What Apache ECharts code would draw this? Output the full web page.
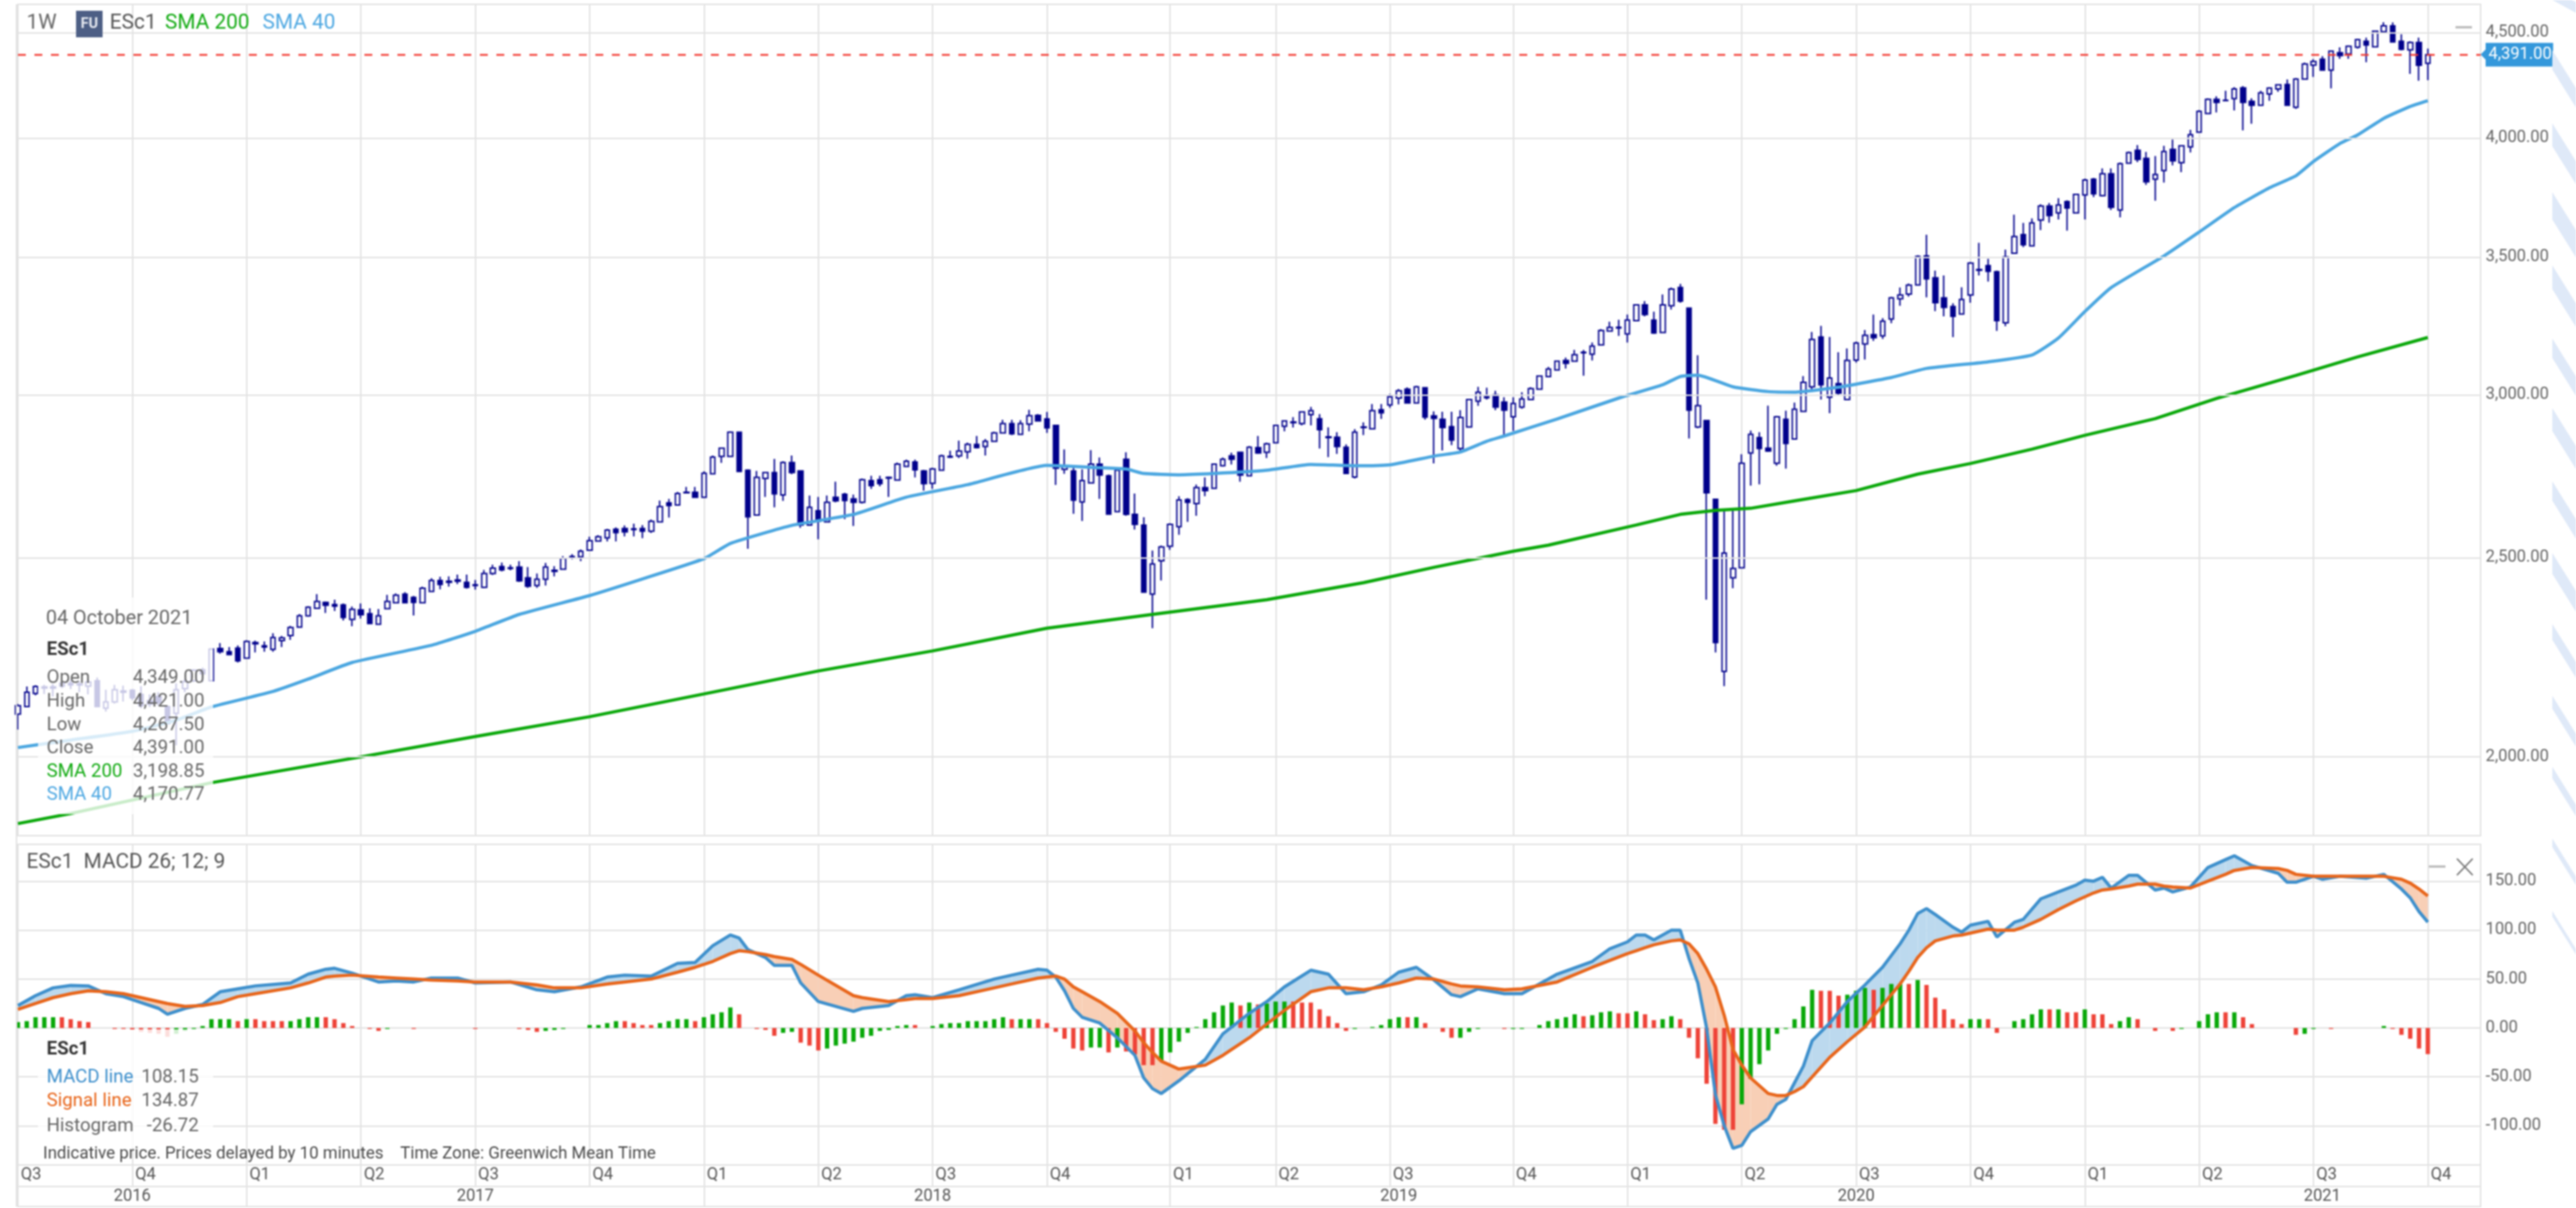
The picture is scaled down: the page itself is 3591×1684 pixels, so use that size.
<!DOCTYPE html>
<html>
<head>
<meta charset="utf-8">
<style>
html,body{margin:0;padding:0;background:#fff;overflow:hidden}
#chart{width:3591px;height:1684px;filter:blur(0.9px)}
</style>
<script src="https://cdn.jsdelivr.net/npm/echarts@6/dist/echarts.min.js"></script>
</head>
<body>
<div id="chart"></div>
<script>
// Weekly candles, from the week of 4 July 2016: [open, close, low, high]
const weeklyCandles = [
[2098,2118,2062,2122],[2116,2150,2115,2164],[2147,2164,2143,2167],[2160,2163,2146,2168],[2163,2160,2140,2170],
[2165,2172,2160,2178],[2172,2168,2158,2180],[2168,2170,2150,2177],[2165,2175,2145,2183],[2178,2116,2114,2186],
[2112,2127,2104,2156],[2127,2156,2123,2168],[2150,2153,2128,2166],[2155,2137,2131,2158],[2145,2118,2112,2165],
[2130,2122,2115,2145],[2140,2125,2118,2150],[2116,2076,2074,2118],[2100,2156,2026,2172],[2159,2176,2150,2182],
[2178,2204,2175,2206],[2205,2195,2175,2210],[2178,2257,2178,2258],[2258,2250,2245,2272],[2250,2243,2242,2262],
[2259,2227,2223,2266],[2234,2276,2234,2279],[2270,2273,2248,2278],[2265,2262,2250,2276],[2256,2286,2250,2297],
[2278,2285,2262,2290],[2291,2312,2280,2316],[2313,2342,2312,2347],[2342,2365,2340,2368],[2362,2380,2360,2400],
[2378,2370,2350,2380],[2372,2368,2355,2385],[2371,2338,2330,2375],[2333,2359,2315,2367],[2358,2345,2335,2375],
[2348,2322,2320,2362],[2320,2342,2320,2360],[2361,2380,2360,2398],[2377,2397,2375,2402],[2400,2377,2375,2405],
[2391,2378,2343,2395],[2377,2416,2377,2420],[2407,2437,2405,2443],[2437,2426,2413,2447],[2435,2432,2420,2448],
[2438,2435,2427,2453],[2432,2418,2415,2453],[2425,2423,2412,2438],[2418,2456,2416,2466],[2456,2471,2452,2480],
[2475,2466,2462,2486],[2472,2470,2465,2480],[2474,2436,2433,2490],[2444,2421,2417,2474],[2423,2440,2417,2456],
[2440,2474,2423,2485],[2462,2465,2448,2476],[2468,2498,2466,2504],[2500,2503,2495,2510],[2502,2518,2490,2523],
[2521,2548,2520,2559],[2547,2559,2546,2564],[2556,2578,2546,2582],[2581,2571,2546,2586],[2583,2573,2560,2592],
[2580,2582,2560,2597],[2583,2575,2555,2593],[2575,2604,2570,2609],[2602,2647,2601,2665],[2658,2650,2615,2670],
[2652,2686,2650,2691],[2688,2690,2686,2706],[2690,2675,2673,2706],[2675,2748,2675,2754],[2746,2798,2744,2803],
[2800,2826,2780,2828],[2800,2877,2800,2880],[2877,2753,2753,2877],[2757,2617,2525,2760],[2622,2735,2620,2755],
[2732,2750,2676,2752],[2750,2685,2645,2792],[2682,2781,2664,2785],[2781,2750,2745,2803],[2755,2593,2585,2757],
[2593,2645,2592,2680],[2635,2604,2552,2676],[2602,2660,2602,2680],[2675,2664,2660,2722],[2684,2665,2610,2688],
[2670,2660,2590,2683],[2660,2728,2656,2732],[2725,2710,2700,2740],[2728,2716,2708,2740],[2735,2733,2676,2738],
[2727,2776,2727,2781],[2769,2785,2769,2790],[2783,2758,2735,2790],[2755,2716,2695,2758],[2717,2761,2700,2765],
[2757,2802,2757,2806],[2800,2798,2795,2818],[2802,2817,2795,2850],[2815,2838,2793,2844],[2838,2828,2825,2865],
[2831,2848,2803,2855],[2848,2875,2848,2879],[2875,2905,2873,2917],[2905,2872,2868,2917],[2870,2905,2870,2916],
[2903,2931,2880,2950],[2932,2914,2912,2936],[2920,2891,2875,2943],[2899,2763,2712,2899],[2760,2770,2746,2822],
[2755,2666,2626,2772],[2661,2725,2605,2760],[2718,2776,2716,2820],[2776,2742,2670,2797],[2740,2625,2625,2744],
[2632,2757,2630,2760],[2791,2624,2620,2813],[2624,2595,2580,2686],[2593,2405,2405,2616],[2400,2482,2310,2520],
[2491,2530,2437,2534],[2532,2595,2522,2598],[2588,2667,2565,2678],[2668,2660,2602,2672],[2656,2704,2620,2713],
[2704,2695,2678,2735],[2702,2776,2702,2778],[2771,2791,2768,2797],[2802,2791,2775,2812],[2813,2742,2722,2815],
[2740,2829,2738,2833],[2828,2811,2808,2865],[2813,2840,2795,2844],[2843,2899,2843,2901],[2896,2914,2880,2916],
[2908,2910,2892,2926],[2905,2943,2899,2945],[2934,2947,2899,2960],[2921,2885,2825,2936],[2862,2860,2798,2893],
[2861,2831,2808,2877],[2829,2747,2745,2838],[2736,2877,2732,2887],[2892,2894,2868,2909],[2888,2947,2886,2969],
[2950,2940,2920,2969],[2966,2993,2957,3003],[2989,3014,2968,3020],[3019,2973,2971,3025],[2973,3027,2971,3031],
[3024,2926,2918,3026],[2930,2922,2778,2945],[2919,2892,2819,2944],[2895,2852,2836,2944],[2825,2925,2819,2949],
[2894,2984,2892,2986],[2979,3009,2963,3027],[2993,2990,2984,3024],[3000,2959,2949,3014],[2976,2949,2862,2992],
[2927,2971,2881,2992],[2959,2986,2954,3009],[2984,3021,2982,3026],[3019,3064,3017,3066],[3062,3088,3061,3095],
[3085,3115,3082,3118],[3118,3108,3090,3128],[3115,3138,3113,3155],[3145,3147,3065,3155],[3140,3168,3118,3181],
[3173,3224,3171,3229],[3222,3235,3220,3256],[3233,3236,3205,3263],[3212,3262,3181,3282],[3260,3318,3258,3320],
[3318,3282,3276,3332],[3262,3215,3212,3293],[3217,3318,3217,3357],[3315,3377,3301,3383],[3383,3332,3326,3397],
[3306,2949,2857,3308],[2894,2964,2890,3136],[2915,2688,2385,2917],[2669,2273,2248,2671],[2201,2513,2165,2638],
[2444,2470,2416,2638],[2472,2779,2470,2807],[2811,2870,2710,2882],[2860,2825,2714,2877],[2826,2817,2814,2964],
[2779,2927,2771,2930],[2919,2841,2762,2947],[2855,2952,2853,2974],[2945,3042,2945,3064],[3027,3192,3014,3219],
[3201,3034,2984,3241],[2992,3057,2939,3201],[3038,3006,2996,3147],[2984,3118,2984,3160],[3119,3179,3110,3184],
[3176,3207,3121,3226],[3209,3198,3187,3282],[3205,3258,3194,3269],[3266,3344,3251,3348],[3341,3355,3315,3383],
[3358,3392,3349,3398],[3393,3503,3393,3508],[3505,3416,3346,3589],[3420,3326,3295,3448],[3344,3309,3276,3429],
[3312,3276,3200,3324],[3284,3338,3284,3384],[3355,3477,3326,3481],[3452,3449,3429,3557],[3467,3445,3406,3494],
[3444,3260,3223,3448],[3252,3501,3240,3530],[3516,3582,3515,3671],[3590,3549,3540,3637],[3545,3637,3545,3655],
[3649,3706,3608,3714],[3706,3667,3638,3719],[3678,3711,3651,3739],[3725,3698,3606,3730],[3678,3755,3678,3757],
[3753,3816,3651,3822],[3820,3757,3744,3825],[3750,3843,3746,3866],[3843,3701,3690,3866],[3690,3886,3660,3892],
[3889,3935,3887,3940],[3945,3905,3893,3968],[3910,3808,3795,3938],[3820,3840,3729,3920],[3857,3940,3805,3965],
[3949,3899,3879,3993],[3891,3965,3850,3968],[3960,4015,3936,4037],[4026,4121,4026,4127],[4111,4177,4108,4182],
[4177,4163,4116,4191],[4173,4171,4170,4217],[4180,4226,4125,4234],[4231,4163,4034,4239],[4168,4149,4064,4182],
[4149,4207,4147,4217],[4202,4230,4170,4234],[4226,4245,4212,4249],[4247,4149,4147,4271],[4140,4273,4133,4278],
[4273,4345,4271,4352],[4340,4358,4283,4369],[4369,4316,4313,4384],[4316,4409,4228,4412],[4401,4387,4371,4427],
[4395,4433,4371,4437],[4428,4466,4421,4470],[4458,4439,4354,4476],[4430,4508,4428,4511],[4505,4535,4503,4554],
[4535,4454,4451,4553],[4458,4418,4412,4493],[4415,4451,4298,4458],[4451,4339,4265,4476],[4349,4391,4267.5,4421]
];

// Moving averages: [week index, value]
const sma40Points = [[0,2021],[6,2038],[13,2058],[18,2084],[22,2115],[29,2152],[33,2182],[38,2223],[47,2266],[52,2302],[57,2346],[65,2396],[71,2441],[78,2497],[81,2540],[88,2592],[95,2624],[101,2675],[108,2713],[117,2772],[123,2765],[126,2761],[128,2747],[132,2743],[136,2747],[142,2757],[147,2775],[152,2771],[156,2774],[161,2801],[164,2814],[167,2848],[169,2865],[175,2920],[182,2989],[187,3034],[189,3062],[191,3067],[195,3027],[199,3011],[202,3009],[207,3026],[213,3059],[217,3090],[224,3113],[229,3137],[232,3197],[235,3293],[238,3383],[244,3505],[248,3600],[252,3700],[256,3783],[259,3834],[261,3896],[264,3975],[266,4013],[269,4089],[272,4144],[274,4170.77]];
const sma200Points = [[0,1856],[6,1877],[22,1943],[39,2000],[52,2046],[65,2092],[78,2146],[91,2202],[104,2252],[117,2310],[129,2346],[142,2385],[153,2431],[161,2473],[170,2518],[174,2535],[184,2593],[189,2624],[193,2636],[197,2642],[202,2664],[209,2695],[216,2745],[222,2778],[229,2823],[235,2867],[243,2921],[250,2988],[259,3066],[266,3130],[274,3198.85]];

// MACD rows: [week index, MACD line, signal line]
const macdRows = [[0,23,19],[2,33,25],[4,41,31],[6,43.5,35],[8,43,38],[10,35,37],[12,32,35],[14,26,31],[16,20,27],[17,14,25],[19,20,22],[21,24,23],[23,37,26],[25,40,32],[27,43,35],[31,46,41],[33,55,46],[35,60,52],[36,61,53],[38,56,54],[41,47,52],[43,48,51],[45,47,50],[47,51,49],[50,51,48],[52,46,47],[56,47,47],[59,39,44],[61,37,41],[64,42,41],[67,52,45],[69,54,47],[72,53,50],[75,66,57],[77,67,62],[79,84,68],[81,95,76],[82,92,79],[83,80,78],[85,72,75],[86,64,73],[88,64,70],[89,46,65],[91,27,54],[95,17,33],[96,20,31],[99,23,27],[101,33,29],[102,34,30],[104,31,30],[107,39,33],[111,50,41],[113,54,45],[116,60,51],[117,59,52],[118,52,53],[119,38,50],[120,20,42],[121,11,37],[123,5,27],[125,-10,15],[127,-28,-3],[128,-51,-15],[129,-62,-25],[130,-67,-34],[132,-54,-42],[135,-32,-38],[137,-6,-28],[140,15,-10],[142,27,4],[144,42,18],[147,59,37],[149,55,41],[151,35,41],[153,37,39],[155,44,42],[157,57,46],[159,62,51],[161,49,50],[163,34,45],[164,32,43],[166,40,42],[169,35,39],[171,35,40],[175,55,47],[179,68,62],[181,81,69],[183,88,76],[184,95,79],[185,95,82],[186,90,85],[188,100,89],[189,100,90],[190,71,86],[191,46,76],[192,0,60],[193,-68,42],[194,-100,13],[195,-123,-22],[196,-120,-38],[197,-106,-51],[199,-93,-67],[200,-78,-69],[201,-73,-69],[202,-56,-65],[203,-39,-60],[204,-13,-50],[206,5,-30],[208,27,-14],[210,44,1],[212,62,23],[214,86,45],[215,100,58],[216,117,72],[217,122,82],[218,116,89],[220,103,94],[221,98,95],[222,105,97],[224,109,101],[225,93,100],[227,108,100],[228,111,103],[230,132,111],[232,139,121],[234,146,130],[235,151,134],[236,150,138],[237,154,141],[238,143,142],[240,156,145],[241,156,147],[243,141,147],[244,143,145],[245,139,144],[247,144,143],[249,164,150],[251,172,157],[252,176,161],[254,166,164],[257,158,163],[258,149,161],[259,149,157],[261,155,155],[262,152,155],[264,155,155],[267,153,155],[269,157,155],[271,142,152],[272,133,148],[273,119,142],[274,108.15,134.87]];

// MACD histogram, one bar per week, with its colour (g / r) alongside
const histogramValues = [
6,7,11,11,11,11,9,7,6,0,
0,-1,-1,-2,-4,-5,-6,-9,-6,-3,
-1,2,9,9,9,7,9,9,7,7,
7,7,9,11,11,11,9,5,2,0,
-1,-3,-1,0,0,-1,0,0,0,0,
0,0,-1,0,0,0,0,-1,-2,-4,
-3,-2,-1,0,0,3,3,5,7,7,
5,3,3,5,7,9,9,7,11,14,
16,21,14,0,-1,-2,-8,-5,-4,-15,
-18,-23,-21,-18,-16,-14,-10,-8,-3,-2,
2,3,3,0,2,4,5,5,7,7,
7,9,11,9,9,9,9,5,-4,-11,
-21,-23,-20,-20,-25,-20,-24,-27,-38,-38,
-33,-25,-14,-5,1,9,16,23,26,23,
26,24,25,27,27,27,26,26,19,12,
5,-3,-1,0,1,3,9,11,11,11,
5,0,-4,-10,-10,-4,-1,0,0,-1,
-1,-1,0,3,7,9,11,14,12,13,
16,17,15,15,17,14,8,9,12,9,
-10,-31,-57,-98,-104,-104,-78,-52,-37,-23,
-6,-1,9,22,39,38,38,33,34,38,
41,39,41,45,45,45,49,44,31,19,
9,4,9,9,9,-5,0,7,9,14,
19,19,19,16,16,19,14,14,4,7,
11,9,0,-3,0,-3,-1,0,7,14,
16,16,16,11,4,0,0,0,0,-7,
-6,-1,0,-1,0,0,0,0,0,2,
-1,-7,-11,-21,-26.72
];
const histogramColours = [
'gggggrrrrr','grrrrrrrgg','gggggrgrrr','rggggrrrrr','rrgggrgggg',
'ggrggggrrr','gggggggggr','rrrggggrgg','ggrrrrrggr','rrgggggggg',
'ggrrgggggg','gggrggrrrr','rrggrgrrrr','gggggggggr','grgggrrrrr',
'rrggggggrg','rrrrgggggr','ggggggggrg','ggrrgrrggr','rrrrrrgggg',
'gggggrrrgg','grgggrgrrr','rrggrrgggg','grgrrgrrrg','grrrgrgggg',
'grgrrrgggr','gggrgggggg','rrrrr'
].join('').split('');

const quarterWeeks  = [0,13,26,39,52,65,78,91,104,117,131,143,156,170,183,196,209,222,235,248,261,274];
const quarterLabels = ['Q3','Q4','Q1','Q2','Q3','Q4','Q1','Q2','Q3','Q4','Q1','Q2','Q3','Q4','Q1','Q2','Q3','Q4','Q1','Q2','Q3','Q4'];
const yearLineWeeks = [26,78,131,183,235];
const yearLabelWeeks = [13,52,104,157,209,262];
const yearLabels = ['2016','2017','2018','2019','2020','2021'];
const priceTicks = [2000,2500,3000,3500,4000,4500];
const macdTicks = [-100,-50,0,50,100,150];
const lastPrice = 4391;

const FUTURE_WEEKS = 6;
const categories = [];
for (let i = 0; i < weeklyCandles.length + FUTURE_WEEKS; i++) {
  categories.push(new Date(Date.UTC(2016,6,4) + i*7*864e5).toISOString().slice(0,10));
}
const quarterByCat = {}; quarterWeeks.forEach((w,k)=>{quarterByCat[categories[w]] = quarterLabels[k];});
const yearByCat = {}; yearLabelWeeks.forEach((w,k)=>{yearByCat[categories[w]] = yearLabels[k];});
const quarterLineSet = new Set(quarterWeeks.filter(w=>w>0));
const yearLineSet = new Set(yearLineWeeks);

const FONT = 'Roboto, "Liberation Sans", sans-serif';
const GRID_C = '#e2e2e2', TXT = '#666666', NAVY = '#00008b';
const fmt = v => v.toLocaleString('en-US',{minimumFractionDigits:2,maximumFractionDigits:2});

const L = 25, W = 3433, R = 3591 - L - W;
const vLines = { show:true, interval:(i)=>quarterLineSet.has(i), lineStyle:{color:GRID_C,width:2} };
const xBase = { type:'category', data:categories, boundaryGap:false, axisLine:{show:false}, axisTick:{show:false}, axisLabel:{show:false}, splitLine:vLines };

const labelsText = (x,y,t,color,size,extra) => ({type:'text',z:101,x,y,style:Object.assign({text:t,fill:color,font:`${size}px ${FONT}`,textVerticalAlign:'middle'},extra||{})});
const rowsPrice = [['Open','4,349.00',TXT,945],['High','4,421.00',TXT,978],['Low','4,267.50',TXT,1011],['Close','4,391.00',TXT,1043],['SMA 200','3,198.85','#13ab13',1076],['SMA 40','4,170.77','#4ea8e2',1108]];
const rowsMacd = [['MACD line','108.15','#3d8fcc',1502],['Signal line','134.87','#e8651a',1535],['Histogram','-26.72',TXT,1570]];

const stripeTops = [[70,97],[172,204],[268,306],[370,403],[472,499],[569,601],[671,698],[771,800],[870,892],[970,988],[1069,1085],[1169,1181],[1270,1278]];
const stripes = stripeTops.map(s=>({type:'polygon',z:90,shape:{points:[[3558,s[0]],[3591,s[0]+53],[3591,s[1]+53],[3558,s[1]]]},style:{fill:'#dfe9f8'}}));
stripes.push({type:'polygon',z:90,shape:{points:[[3558,0],[3585,0],[3591,3],[3591,18]]},style:{fill:'#dfe9f8'}});

const graphics = [].concat(stripes, [
  {type:'rect',z:99,shape:{x:53,y:833,width:244,height:302},style:{fill:'rgba(255,255,255,0.78)'}},
  {type:'rect',z:99,shape:{x:53,y:1435,width:244,height:165},style:{fill:'rgba(255,255,255,0.82)'}},
  {type:'line',z:91,shape:{x1:23,y1:6,x2:23,y2:1682},style:{stroke:GRID_C,lineWidth:2}},
  // header
  labelsText(37,33,'1W',TXT,29),
  {type:'rect',z:100,shape:{x:106,y:15,width:37,height:37},style:{fill:'#4d5f85'}},
  labelsText(124.5,34,'FU','#e8ebf2',20,{font:`bold 20px ${FONT}`,textAlign:'center'}),
  labelsText(153,33,'ESc1','#555',29),
  labelsText(230,33,'SMA 200','#13ab13',29),
  labelsText(366,33,'SMA 40','#4ea8e2',29),
  // price pointer and window buttons
  {type:'polygon',z:100,shape:{points:[[3458,76],[3466,68],[3466,84]]},style:{fill:'#3498db'}},
  {type:'line',z:100,shape:{x1:3423,y1:38,x2:3446,y2:38},style:{stroke:'#b5b5b5',lineWidth:3}},
  {type:'line',z:100,shape:{x1:3386,y1:1208,x2:3409,y2:1208},style:{stroke:'#b5b5b5',lineWidth:3}},
  {type:'line',z:100,shape:{x1:3425,y1:1197,x2:3447,y2:1220},style:{stroke:'#777',lineWidth:2}},
  {type:'line',z:100,shape:{x1:3447,y1:1197,x2:3425,y2:1220},style:{stroke:'#777',lineWidth:2}},
  // price readout
  labelsText(64,863,'04 October 2021',TXT,27.6),
  labelsText(65,906,'ESc1','#333',26,{font:`bold 26px ${FONT}`}),
  // MACD header and readout
  labelsText(37,1203,'ESc1  MACD 26; 12; 9','#555',29),
  labelsText(65,1463,'ESc1','#333',26,{font:`bold 26px ${FONT}`}),
  labelsText(60,1609,'Indicative price. Prices delayed by 10 minutes    Time Zone: Greenwich Mean Time','#4a4a4a',23.5)
]);
rowsPrice.forEach(r=>{graphics.push(labelsText(65,r[3],r[0],r[2],26));graphics.push(labelsText(285,r[3],r[1],TXT,26,{textAlign:'right'}));});
rowsMacd.forEach(r=>{graphics.push(labelsText(65,r[3],r[0],r[2],26));graphics.push(labelsText(277,r[3],r[1],TXT,26,{textAlign:'right'}));});

function renderFill(params, api){
  const k = params.dataIndex;
  if (k >= macdRows.length-1) return null;
  const a = macdRows[k], b = macdRows[k+1];
  const m0 = api.coord([a[0],a[1]]), s0 = api.coord([a[0],a[2]]), m1 = api.coord([b[0],b[1]]), s1 = api.coord([b[0],b[2]]);
  const d0 = a[1]-a[2], d1 = b[1]-b[2];
  const blue = '#bcd9ee', orange = '#f8cfb6';
  const poly = (pts,fill)=>({type:'polygon',shape:{points:pts},style:{fill},silent:true});
  if (d0*d1 >= 0) return poly([m0,m1,s1,s0], (d0+d1)>=0?blue:orange);
  const t = d0/(d0-d1);
  const c = [m0[0]+(m1[0]-m0[0])*t, m0[1]+(m1[1]-m0[1])*t];
  return {type:'group',children:[poly([m0,c,s0],d0>0?blue:orange),poly([c,m1,s1],d1>0?blue:orange)]};
}

const option = {
  animation:false,
  backgroundColor:'#fff',
  textStyle:{fontFamily:FONT},
  grid:[
    {left:L,right:R,top:6,height:1159,show:true,borderColor:GRID_C,borderWidth:2,backgroundColor:'transparent'},
    {left:L,right:R,top:1177,height:447,show:true,borderColor:GRID_C,borderWidth:2},
    {left:L,right:R,top:1624,height:30,show:true,borderColor:GRID_C,borderWidth:2},
    {left:L,right:R,top:1654,height:28,show:true,borderColor:GRID_C,borderWidth:2}
  ],
  xAxis:[
    Object.assign({gridIndex:0},xBase),
    Object.assign({gridIndex:1},xBase),
    Object.assign({},xBase,{gridIndex:2,axisLabel:{show:true,inside:true,align:'left',verticalAlign:'bottom',margin:4,padding:[0,0,0,4],fontSize:23,color:'#555',fontFamily:FONT,
      interval:(i,v)=>v in quarterByCat, formatter:v=>quarterByCat[v]||''}}),
    Object.assign({},xBase,{gridIndex:3,splitLine:{show:true,interval:(i)=>yearLineSet.has(i),lineStyle:{color:GRID_C,width:2}},axisLabel:{show:true,inside:true,align:'center',verticalAlign:'bottom',margin:2,fontSize:23,color:'#555',fontFamily:FONT,
      interval:(i,v)=>v in yearByCat, formatter:v=>yearByCat[v]||''}})
  ],
  yAxis:[
    {gridIndex:0,type:'log',logBase:10,position:'right',min:1831,max:4646,axisLabel:{show:false},axisTick:{show:false},splitLine:{show:false},axisLine:{show:false}},
    {gridIndex:1,type:'value',position:'right',min:-140,max:187.7,axisLine:{show:false},
      axisTick:{show:false,customValues:macdTicks},
      axisLabel:{customValues:macdTicks,formatter:v=>fmt(v),fontSize:23,color:TXT,margin:7,fontFamily:FONT},
      splitLine:{show:true,lineStyle:{color:GRID_C,width:2}}},
    {gridIndex:2,type:'value',min:0,max:1,show:false},
    {gridIndex:3,type:'value',min:0,max:1,show:false}
  ],
  series:[
    {name:'Price levels',type:'line',xAxisIndex:0,yAxisIndex:0,data:[],z:1,silent:true,showSymbol:false,
      markLine:{silent:true,symbol:'none',animation:false,precision:2,
        lineStyle:{color:GRID_C,width:2,type:'solid'},
        label:{show:true,position:'end',distance:7,formatter:p=>fmt(p.value),fontSize:23,color:TXT,fontFamily:FONT},
        data:priceTicks.map(v=>({yAxis:v}))}},
    {name:'ESc1',type:'candlestick',xAxisIndex:0,yAxisIndex:0,data:weeklyCandles,barWidth:7,z:3,silent:true,
      itemStyle:{color:'#ffffff',color0:NAVY,borderColor:NAVY,borderColor0:NAVY,borderWidth:2},
      markLine:{silent:true,symbol:'none',animation:false,precision:2,
        lineStyle:{color:'#f23a32',width:2.5,type:[11,12]},
        label:{show:true,position:'end',distance:7,formatter:p=>fmt(p.value),fontSize:23,color:'#fff',fontFamily:FONT,backgroundColor:'#3498db',padding:[5,2,5,4]},
        data:[{yAxis:lastPrice}]}},
    {name:'SMA 200',type:'line',xAxisIndex:0,yAxisIndex:0,data:sma200Points,showSymbol:false,z:4,silent:true,lineStyle:{color:'#0aa80a',width:4.5}},
    {name:'SMA 40',type:'line',xAxisIndex:0,yAxisIndex:0,data:sma40Points,showSymbol:false,z:4,silent:true,smooth:0.15,lineStyle:{color:'#4aa6e0',width:4.5}},
    {name:'MACD fill',type:'custom',xAxisIndex:1,yAxisIndex:1,data:macdRows,z:2,silent:true,renderItem:renderFill,encode:{x:0,y:[1,2]},clip:true},
    {name:'Histogram',type:'bar',xAxisIndex:1,yAxisIndex:1,barWidth:6,z:3,silent:true,
      data:histogramValues.map((v,i)=>({value:v,itemStyle:{color:histogramColours[i]==='g'?'#08a808':'#ee4237'}}))},
    {name:'MACD line',type:'line',xAxisIndex:1,yAxisIndex:1,data:macdRows.map(r=>[r[0],r[1]]),showSymbol:false,z:4,silent:true,lineStyle:{color:'#3d8fcc',width:4.5}},
    {name:'Signal line',type:'line',xAxisIndex:1,yAxisIndex:1,data:macdRows.map(r=>[r[0],r[2]]),showSymbol:false,z:5,silent:true,lineStyle:{color:'#e8651a',width:4.5}}
  ],
  graphic:{elements:graphics}
};
const chart = echarts.init(document.getElementById('chart'),null,{renderer:'canvas'});
chart.setOption(option);
</script>
</body>
</html>
